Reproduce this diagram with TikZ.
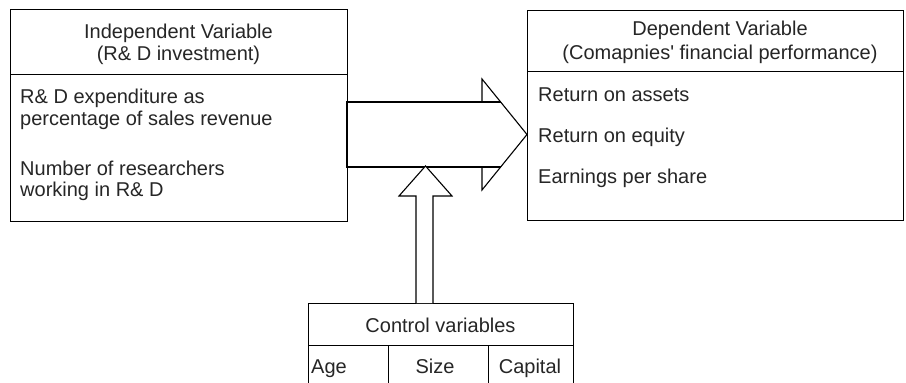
\documentclass[tikz,border=0pt]{standalone}
\usepackage{fontspec}
\setmainfont{Liberation Sans}[Ligatures=TeXOff]
\begin{document}
\begin{tikzpicture}[x=1pt,y=-1pt,
  box/.style={draw=black, line width=1.1pt, inner sep=0pt, anchor=north west, fill=white},
  txt/.style={font=\fontsize{20}{22.5}\selectfont, inner sep=0pt, text=black!85},
  arr/.style={draw=black, line width=1.1pt, line join=miter}]
\useasboundingbox (0,0) rectangle (906,383);
\clip (0,0) rectangle (906,383);
% independent variable box
\node[box, minimum width=337pt, minimum height=65pt] (ih) at (10,9) {};
\node[box, minimum width=337pt, minimum height=147pt] (ib) at (10,74) {};
\node[txt, anchor=base] (ih1) at (178.5,38) {Independent Variable};
\node[txt, anchor=base] (ih2) at (178.5,60.5) {(R\& D investment)};
\node[txt, anchor=base west] (i1) at (20,103.5) {R\& D expenditure as};
\node[txt, anchor=base west] (i2) at (20,125.5) {percentage of sales revenue};
\node[txt, anchor=base west] (i3) at (20,175.5) {Number of researchers};
\node[txt, anchor=base west] (i4) at (20,196.5) {working in R\& D};
% dependent variable box
\node[box, minimum width=376pt, minimum height=61pt] (dh) at (527,10) {};
\node[box, minimum width=376pt, minimum height=149pt] (db) at (527,71) {};
\node[txt, anchor=base] (dh1) at (720,35.5) {Dependent Variable};
\node[txt, anchor=base] (dh2) at (720,59.5) {(Comapnies' financial performance)};
\node[txt, anchor=base west] (d1) at (538,101) {Return on assets};
\node[txt, anchor=base west] (d2) at (538,142) {Return on equity};
\node[txt, anchor=base west] (d3) at (538,183) {Earnings per share};
% control variables box
\node[box, minimum width=265pt, minimum height=42pt] (ch) at (308,303) {};
\node[box, minimum width=80pt, minimum height=50pt] (c1) at (308,345) {};
\node[box, minimum width=100pt, minimum height=50pt] (c2) at (388,345) {};
\node[box, minimum width=85pt, minimum height=50pt] (c3) at (488,345) {};
\node[txt, anchor=base] (cht) at (440.5,332) {Control variables};
\node[txt, anchor=base west] (c1t) at (311,373.5) {Age};
\node[txt, anchor=base] (c2t) at (435,373.5) {Size};
\node[txt, anchor=base] (c3t) at (530,373.5) {Capital};
% horizontal block arrow
\coordinate (hs1) at (347,102);
\coordinate (hs2) at (500.6,102);
\coordinate (hs3) at (500.6,167);
\coordinate (hs4) at (347,167);
\coordinate (hn1) at (482,102);
\coordinate (hn2) at (482,79);
\coordinate (htip) at (527,134.5);
\coordinate (hn3) at (482,190);
\coordinate (hn4) at (482,167);
\fill[white] (hs1) -- (hn1) -- (hn2) -- (htip) -- (hn3) -- (hn4) -- (hs4) -- cycle;
\draw[arr] (hs2) -- (hs1) -- (hs4) -- (hs3);
\draw[arr] (hn1) -- (hn2) -- (htip) -- (hn3) -- (hn4);
% vertical block arrow
\coordinate (vs1) at (416,303);
\coordinate (vs2) at (416,196);
\coordinate (vs3) at (399,196);
\coordinate (vtip) at (425.5,166);
\coordinate (vs4) at (452,196);
\coordinate (vs5) at (433,196);
\coordinate (vs6) at (433,303);
\filldraw[arr, fill=white] (vs1) -- (vs2) -- (vs3) -- (vtip) -- (vs4) -- (vs5) -- (vs6);
\end{tikzpicture}
\end{document}
